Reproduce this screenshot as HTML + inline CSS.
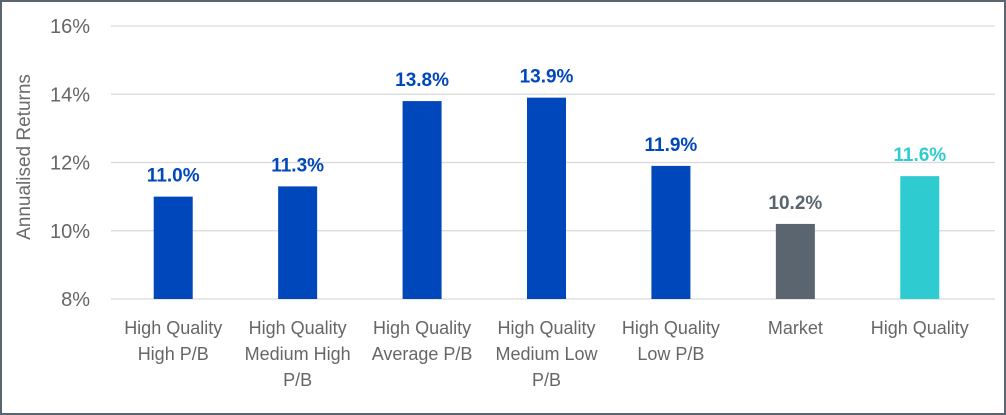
<!DOCTYPE html>
<html><head><meta charset="utf-8"><style>
html,body{margin:0;padding:0;background:#fff;}
svg{display:block;font-family:"Liberation Sans",sans-serif;}
</style></head><body>
<svg id="chart" width="1006" height="415">
<rect x="1" y="1" width="1004" height="413" fill="#fff" stroke="#5a6570" stroke-width="2"/>
<text transform="translate(30,157) rotate(-90)" text-anchor="middle" font-size="19" fill="#6b6b6b">Annualised Returns</text>
<g id="grid"></g><g id="bars"></g><g id="labels"></g>
</svg>
<script>
const categories=[["High Quality","High P/B"],["High Quality","Medium High","P/B"],["High Quality","Average P/B"],["High Quality","Medium Low","P/B"],["High Quality","Low P/B"],["Market"],["High Quality"]];
const values=[11.0,11.3,13.8,13.9,11.9,10.2,11.6];
const valueLabels=["11.0%","11.3%","13.8%","13.9%","11.9%","10.2%","11.6%"];
const colors=["#0047bb","#0047bb","#0047bb","#0047bb","#0047bb","#5a6570","#2ecbd1"];
const ticks=[8,10,12,14,16];
const tickLabels=["8%","10%","12%","14%","16%"];
const NS="http://www.w3.org/2000/svg";
const x0=111,x1=982,y0=299,y1=26,vmin=8,vmax=16;
const band=(x1-x0)/categories.length;
const y=v=>y0-(v-vmin)/(vmax-vmin)*(y0-y1);
const xc=i=>x0+band*(i+0.5);
function mk(t,a,p){const e=document.createElementNS(NS,t);for(const k in a)e.setAttribute(k,a[k]);p.appendChild(e);return e;}
const g=document.getElementById('grid'),b=document.getElementById('bars'),l=document.getElementById('labels');
ticks.forEach((t,i)=>{
 const ln=mk('line',{x1:x0,x2:995,y1:y(t),y2:y(t),stroke:'#d9d9d9','stroke-width':1.2},g);
 
 
 const tx=mk('text',{x:90,y:y(t)+7,'text-anchor':'end','font-size':20,fill:'#666'},g);
 tx.textContent=tickLabels[i];
 
 
});
values.forEach((v,i)=>{
 const w=39,cx=xc(i);
 const r=mk('rect',{x:cx-w/2,y:y(v),width:w,height:y0-y(v),fill:colors[i]},b);
 
 
 const t=mk('text',{x:cx,y:y(v)-15,'text-anchor':'middle','font-size':19,'font-weight':'bold',fill:colors[i]},l);
 t.textContent=valueLabels[i];
 
 
 categories[i].forEach((s,j)=>{
  const c=mk('text',{x:cx,y:334+j*26,'text-anchor':'middle','font-size':18,fill:'#666'},l);
  c.textContent=s;
  
  
 });
});
</script>
</body></html>
